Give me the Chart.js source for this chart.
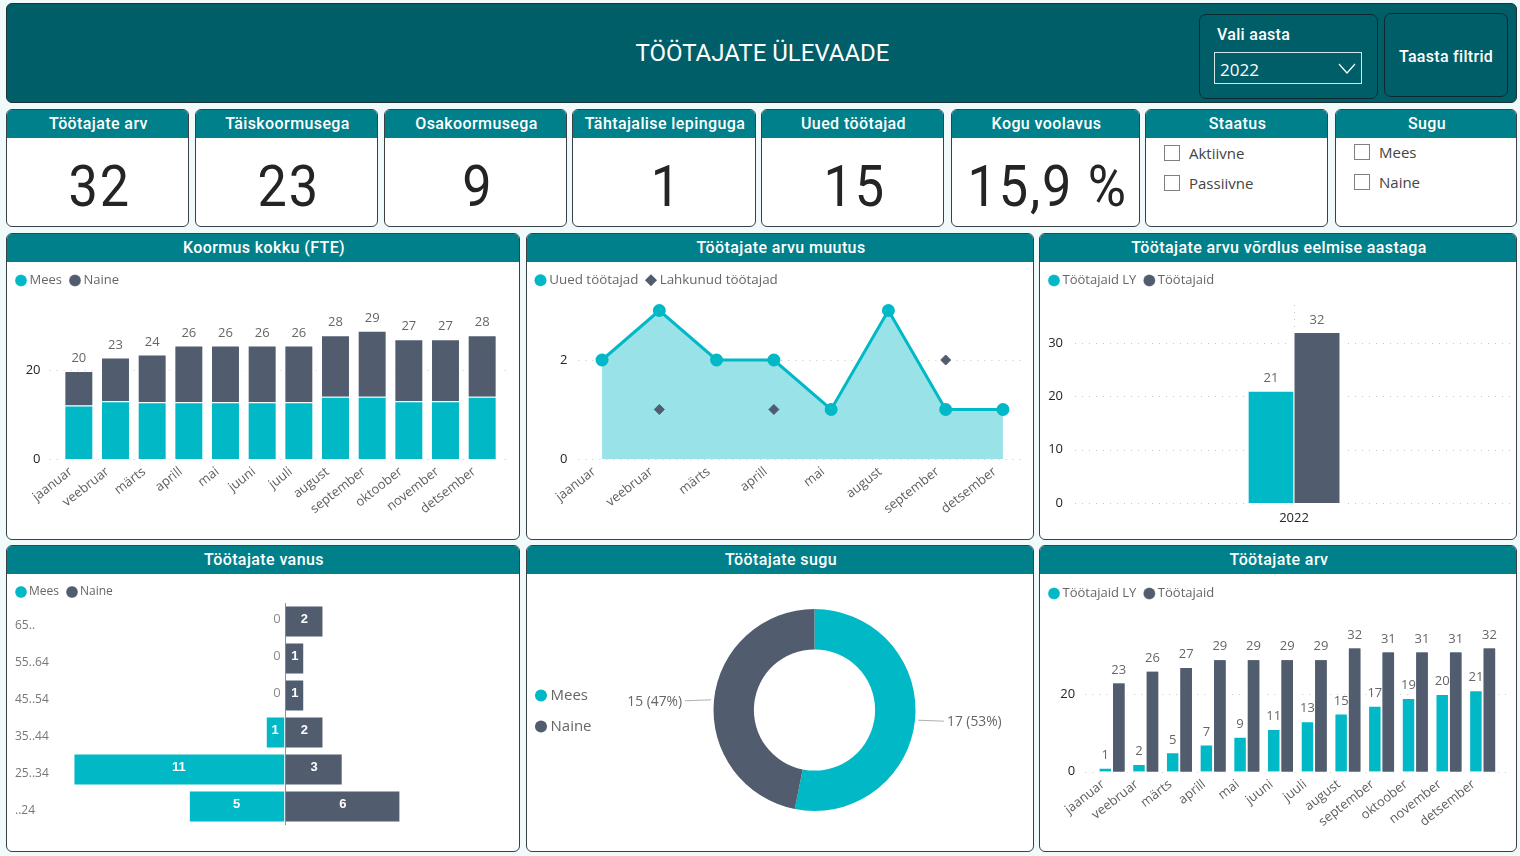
<!DOCTYPE html>
<html lang="et">
<head>
<meta charset="utf-8">
<title>Töötajate ülevaade</title>
<script src="https://cdn.jsdelivr.net/npm/chart.js@4"></script>
<style>
  html, body { margin: 0; padding: 0; }
  body { width: 1520px; height: 856px; position: relative; overflow: hidden; background: #f1fafb; font-family: Roboto, sans-serif; }
  .box { position: absolute; box-sizing: border-box; background: #fff; border: 1px solid #3c3f44; border-radius: 6px; overflow: hidden; }
  .band { height: 28px; line-height: 27px; background: #00808a; color: #fff; text-align: center; text-indent: 2px; font-weight: 500; font-size: 16px; letter-spacing: 0.4px; }
  .num { text-align: center; text-indent: 5px; font-size: 58px; line-height: 96px; color: #252423; letter-spacing: 2px; transform: scaleX(0.9); }
  .top { position: absolute; left: 6px; top: 3px; width: 1511px; height: 100px; box-sizing: border-box; background: #005e68; border: 1px solid #1d3236; border-radius: 6px; }
  .title { position: absolute; left: 0; width: 1511px; top: 32px; text-align: center; color: #fff; font-size: 24px; line-height: 34px; }
  .inner { position: absolute; box-sizing: border-box; border: 1px solid #0d2a2e; border-radius: 7px; color: #fff; }
  .check { position: absolute; font: 15px "Open Sans", sans-serif; color: #444; }
  .check i { position: absolute; left: 0; top: 2px; width: 14px; height: 14px; border: 1px solid #808080; }
  .check span { position: absolute; left: 25px; top: 0; white-space: nowrap; }
  canvas { position: absolute; }
</style>
</head>
<body>
<div class="top">
  <div class="title">TÖÖTAJATE ÜLEVAADE</div>
  <div class="inner" style="left:1192px;top:10px;width:179px;height:85px;">
    <div style="position:absolute;left:17px;top:10px;font-size:16px;font-weight:500;letter-spacing:0.3px;">Vali aasta</div>
    <div style="position:absolute;left:14px;top:37px;width:148px;height:32px;box-sizing:border-box;border:1px solid #d5e6e8;">
      <span style="position:absolute;left:5px;top:5px;font:17px 'Open Sans',sans-serif;">2022</span>
      <svg style="position:absolute;right:5px;top:10px;" width="18" height="12"><polyline points="1,1 9,10 17,1" fill="none" stroke="#fff" stroke-width="1.2"/></svg>
    </div>
  </div>
  <div class="inner" style="left:1377px;top:9px;width:124px;height:84px;">
    <div style="position:absolute;left:0;width:100%;top:33px;text-align:center;font-size:16px;font-weight:500;letter-spacing:0.3px;">Taasta filtrid</div>
  </div>
</div>

<div class="box" style="left:6px;top:109px;width:183px;height:118px;"><div class="band">Töötajate arv</div><div class="num" id="kpi0"></div></div>
<div class="box" style="left:195px;top:109px;width:183px;height:118px;"><div class="band">Täiskoormusega</div><div class="num" id="kpi1"></div></div>
<div class="box" style="left:384px;top:109px;width:183px;height:118px;"><div class="band">Osakoormusega</div><div class="num" id="kpi2"></div></div>
<div class="box" style="left:572px;top:109px;width:184px;height:118px;"><div class="band">Tähtajalise lepinguga</div><div class="num" id="kpi3"></div></div>
<div class="box" style="left:761px;top:109px;width:183px;height:118px;"><div class="band">Uued töötajad</div><div class="num" id="kpi4"></div></div>
<div class="box" style="left:951px;top:109px;width:189px;height:118px;"><div class="band">Kogu voolavus</div><div class="num" id="kpi5"></div></div>
<div class="box" style="left:1145px;top:109px;width:183px;height:118px;"><div class="band">Staatus</div>
  <div class="check" style="left:18px;top:33px;"><i></i><span>Aktiivne</span></div>
  <div class="check" style="left:18px;top:63px;"><i></i><span>Passiivne</span></div>
</div>
<div class="box" style="left:1335px;top:109px;width:182px;height:118px;"><div class="band">Sugu</div>
  <div class="check" style="left:18px;top:32px;"><i></i><span>Mees</span></div>
  <div class="check" style="left:18px;top:62px;"><i></i><span>Naine</span></div>
</div>

<div class="box" style="left:6px;top:233px;width:514px;height:307px;"><div class="band">Koormus kokku (FTE)</div></div>
<div class="box" style="left:526px;top:233px;width:508px;height:307px;"><div class="band">Töötajate arvu muutus</div></div>
<div class="box" style="left:1039px;top:233px;width:478px;height:307px;"><div class="band">Töötajate arvu võrdlus eelmise aastaga</div></div>
<div class="box" style="left:6px;top:545px;width:514px;height:307px;"><div class="band">Töötajate vanus</div></div>
<div class="box" style="left:526px;top:545px;width:508px;height:307px;"><div class="band">Töötajate sugu</div></div>
<div class="box" style="left:1039px;top:545px;width:478px;height:307px;"><div class="band">Töötajate arv</div></div>

<canvas id="fte" width="510" height="275" style="left:8px;top:263px;"></canvas>
<canvas id="muutus" width="504" height="275" style="left:528px;top:263px;"></canvas>
<canvas id="vordlus" width="474" height="275" style="left:1041px;top:263px;"></canvas>
<canvas id="vanus" width="510" height="274" style="left:8px;top:576px;"></canvas>
<canvas id="sugu" width="504" height="274" style="left:528px;top:576px;"></canvas>
<canvas id="arv" width="474" height="274" style="left:1041px;top:576px;"></canvas>

<script>
const kpiValues = ["32", "23", "9", "1", "15", "15,9 %"];

const months = ["jaanuar", "veebruar", "märts", "aprill", "mai", "juuni", "juuli", "august", "september", "oktoober", "november", "detsember"];
const fteMees = [12, 13, 12.75, 12.75, 12.75, 12.75, 12.75, 14, 14, 13, 13, 14];
const fteNaine = [7.8, 9.8, 10.75, 12.75, 12.75, 12.75, 12.75, 13.8, 14.8, 13.9, 13.9, 13.8];
const fteTicks = [0, 20];

const changeMonths = ["jaanuar", "veebruar", "märts", "aprill", "mai", "august", "september", "detsember"];
const newEmployees = [2, 3, 2, 2, 1, 3, 1, 1];
const leftEmployees = [null, 1, null, 1, null, null, 2, null];
const changeTicks = [0, 2];

const compareYears = ["2022"];
const compareLY = [21];
const compareNow = [32];
const compareTicks = [0, 10, 20, 30];

const ageGroups = ["65..", "55..64", "45..54", "35..44", "25..34", "..24"];
const ageMees = [0, 0, 0, 1, 11, 5];
const ageNaine = [2, 1, 1, 2, 3, 6];

const genderLabels = ["Mees", "Naine"];
const genderValues = [17, 15];

const countLY = [1, 2, 5, 7, 9, 11, 13, 15, 17, 19, 20, 21];
const countNow = [23, 26, 27, 29, 29, 29, 29, 32, 31, 31, 31, 32];
const countTicks = [0, 20];

const TEAL = "#01b8c6";
const DARK = "#515c6e";
const PALE = "#99e2e8";
const EDGE = "rgba(255,255,255,0.35)";
const TEXT = "#666666";
const SANS = '"Open Sans", sans-serif';

kpiValues.forEach((v, i) => { document.getElementById("kpi" + i).textContent = v; });

Chart.defaults.animation = false;
Chart.defaults.responsive = false;
Chart.defaults.font.family = SANS;
Chart.defaults.font.size = 13;
Chart.defaults.plugins.tooltip.enabled = false;

// fixes the space the legend takes so the plot lands where it does in the reference
const legendFix = {
  id: "legendFix",
  beforeLayout(chart, args, opts) {
    const legend = chart.legend;
    if (legend.patched) return;
    legend.patched = true;
    const fit = legend.fit;
    legend.fit = function () {
      fit.call(this);
      if (opts.height) this.height = opts.height;
      if (opts.width) this.width = opts.width;
    };
  },
  afterLayout(chart, args, opts) {
    if (opts.dx) chart.legend.left += opts.dx;
    if (opts.dy) chart.legend.top += opts.dy;
  },
};

const dotGrid = {
  id: "dotGrid",
  beforeDatasetsDraw(chart, args, opts) {
    const { ctx, chartArea, scales } = chart;
    ctx.save();
    ctx.strokeStyle = "#c4c4c4";
    ctx.lineWidth = 1;
    ctx.setLineDash([1, 6]);
    scales.y.ticks.forEach((t) => {
      const y = Math.round(scales.y.getPixelForValue(t.value)) + 0.5;
      ctx.beginPath();
      ctx.moveTo(chartArea.left + opts.from, y);
      ctx.lineTo(chartArea.right + opts.to, y);
      ctx.stroke();
    });
    if (opts.vertical) {
      const x = Math.round(scales.x.getPixelForValue(0)) + 0.5;
      ctx.beginPath();
      ctx.moveTo(x, chartArea.top);
      ctx.lineTo(x, chartArea.bottom);
      ctx.stroke();
    }
    ctx.setLineDash([]);
    if (opts.halo) {
      ctx.fillStyle = "#fff";
      chart.getSortedVisibleDatasetMetas().forEach((meta) => {
        meta.data.forEach((bar) => {
          const w = bar.width / 2 + opts.halo;
          ctx.fillRect(bar.x - w, bar.y, w * 2, bar.base - bar.y + 1);
        });
      });
    }
    ctx.restore();
  },
};

const stackTotals = {
  id: "stackTotals",
  afterDatasetsDraw(chart) {
    const { ctx } = chart;
    const top = chart.getDatasetMeta(chart.data.datasets.length - 1);
    ctx.save();
    ctx.font = "13px " + SANS;
    ctx.fillStyle = TEXT;
    ctx.textAlign = "center";
    ctx.textBaseline = "bottom";
    top.data.forEach((bar, i) => {
      const total = chart.data.datasets.reduce((sum, ds) => sum + ds.data[i], 0);
      ctx.fillText(Math.round(total), bar.x, bar.y - 6);
    });
    ctx.restore();
  },
};

// the dark bars are drawn again over the first series' labels, which they cut in the reference
const barValues = {
  id: "barValues",
  afterDatasetsDraw(chart) {
    const { ctx } = chart;
    const writeLabels = (d) => {
      chart.getDatasetMeta(d).data.forEach((bar, i) => {
        ctx.fillText(chart.data.datasets[d].data[i], bar.x, bar.y - 6);
      });
    };
    ctx.save();
    ctx.font = "13px " + SANS;
    ctx.fillStyle = TEXT;
    ctx.textAlign = "center";
    ctx.textBaseline = "bottom";
    writeLabels(0);
    chart.getDatasetMeta(1).data.forEach((bar) => bar.draw(ctx));
    ctx.font = "13px " + SANS;
    ctx.fillStyle = TEXT;
    writeLabels(1);
    ctx.restore();
  },
};

const ageValues = {
  id: "ageValues",
  afterDatasetsDraw(chart) {
    const { ctx } = chart;
    ctx.save();
    ctx.textAlign = "center";
    ctx.textBaseline = "middle";
    chart.data.datasets.forEach((ds, d) => {
      chart.getDatasetMeta(d).data.forEach((bar, i) => {
        const v = Math.abs(ds.data[i]);
        if (v === 0) {
          ctx.font = "13px " + SANS;
          ctx.fillStyle = "#8a8a8a";
          ctx.fillText("0", bar.base - 8, bar.y - 2);
        } else {
          ctx.font = 'bold 13px "Liberation Sans", sans-serif';
          ctx.fillStyle = "#fff";
          ctx.fillText(v, (bar.x + bar.base) / 2, bar.y - 2);
        }
      });
    });
    ctx.restore();
  },
};

const donutCallouts = {
  id: "donutCallouts",
  afterDatasetsDraw(chart) {
    const { ctx } = chart;
    const data = chart.data.datasets[0].data;
    const sum = data.reduce((a, b) => a + b, 0);
    ctx.save();
    ctx.font = "13.8px " + SANS;
    ctx.fillStyle = TEXT;
    ctx.strokeStyle = "#b0b0b0";
    ctx.textBaseline = "middle";
    chart.getDatasetMeta(0).data.forEach((arc, i) => {
      const mid = (arc.startAngle + arc.endAngle) / 2;
      const r = arc.outerRadius + 3;
      const x = arc.x + Math.cos(mid) * r;
      const y = arc.y + Math.sin(mid) * r;
      const side = Math.cos(mid) > 0 ? 1 : -1;
      ctx.beginPath();
      ctx.moveTo(x, y);
      ctx.lineTo(x + side * 26, y + 1);
      ctx.stroke();
      ctx.textAlign = side > 0 ? "left" : "right";
      ctx.fillText(data[i] + " (" + Math.round((data[i] / sum) * 100) + "%)", x + side * 29, y + 2);
    });
    ctx.restore();
  },
};

function legendOptions(padding, size, extraLabels) {
  return {
    position: "top",
    align: "start",
    labels: Object.assign({
      usePointStyle: true,
      pointStyle: "circle",
      boxWidth: 4,
      boxHeight: 8.5,
      padding: padding,
      color: TEXT,
      font: { size: size },
    }, extraLabels),
  };
}

function xTicks(offset) {
  return {
    autoSkip: false,
    minRotation: 38,
    maxRotation: 38,
    padding: 5,
    labelOffset: offset,
    color: "#605e5c",
    font: { size: 13 },
  };
}

function yAxis(tickValues, max, width, padding) {
  return {
    min: 0,
    max: max,
    afterBuildTicks(s) { s.ticks = tickValues.map((v) => ({ value: v })); },
    afterFit(s) { s.width = width; },
    grid: { display: false, drawTicks: false },
    border: { display: false },
    ticks: { padding: padding, color: "#252423", font: { size: 13 } },
  };
}

function xAxis(height, ticks, extra) {
  return Object.assign({
    afterFit(s) { s.height = height; },
    grid: { display: false, drawTicks: false },
    border: { display: false },
    ticks: ticks,
  }, extra);
}

new Chart(document.getElementById("fte"), {
  type: "bar",
  data: {
    labels: months,
    datasets: [
      { label: "Mees", data: fteMees, backgroundColor: TEAL, borderColor: EDGE, borderWidth: 1, categoryPercentage: 0.79, barPercentage: 1 },
      { label: "Naine", data: fteNaine, backgroundColor: DARK, borderColor: EDGE, borderWidth: 1, categoryPercentage: 0.79, barPercentage: 1 },
    ],
  },
  plugins: [legendFix, dotGrid, stackTotals],
  options: {
    layout: { autoPadding: false, padding: { left: 2, right: 17.5 } },
    scales: {
      x: xAxis(79, xTicks(-8), { stacked: true }),
      y: Object.assign(yAxis(fteTicks, 36.85, 50.5, 20), { stacked: true }),
    },
    plugins: {
      legend: legendOptions(11, 13),
      legendFix: { height: 32, dx: -2 },
      dotGrid: { from: -11, to: 10, halo: 2 },
    },
  },
});

new Chart(document.getElementById("muutus"), {
  type: "line",
  data: {
    labels: changeMonths,
    datasets: [
      {
        label: "Uued töötajad",
        data: newEmployees,
        order: 2,
        borderColor: TEAL,
        borderWidth: 3,
        backgroundColor: PALE,
        fill: "origin",
        tension: 0,
        pointStyle: "circle",
        pointRadius: 5,
        pointBackgroundColor: TEAL,
        pointBorderColor: TEAL,
      },
      {
        label: "Lahkunud töötajad",
        data: leftEmployees,
        order: 1,
        showLine: false,
        backgroundColor: DARK,
        borderColor: DARK,
        pointStyle: "rectRot",
        pointRadius: 5,
        pointBackgroundColor: DARK,
        pointBorderColor: DARK,
      },
    ],
  },
  plugins: [legendFix, dotGrid],
  options: {
    layout: { autoPadding: false, padding: { left: 2, right: 0.4 } },
    scales: {
      x: xAxis(79, xTicks(-8), { offset: true }),
      y: yAxis(changeTicks, 3.313, 43.4, 6),
    },
    plugins: {
      legend: legendOptions(10.5, 13.4, {
        sort: (a, b) => a.datasetIndex - b.datasetIndex,
        generateLabels(chart) {
          return Chart.defaults.plugins.legend.labels.generateLabels(chart).map((item) => {
            const ds = chart.data.datasets[item.datasetIndex];
            item.fillStyle = ds.pointBackgroundColor;
            item.strokeStyle = ds.pointBorderColor;
            item.pointStyle = ds.pointStyle;
            item.lineWidth = 0;
            return item;
          });
        },
      }),
      legendFix: { height: 32, dx: -2 },
      dotGrid: { from: 5, to: -5 },
    },
  },
});

new Chart(document.getElementById("vordlus"), {
  type: "bar",
  data: {
    labels: compareYears,
    datasets: [
      { label: "Töötajaid LY", data: compareLY, backgroundColor: TEAL, borderColor: EDGE, borderWidth: 1, barThickness: 46 },
      { label: "Töötajaid", data: compareNow, backgroundColor: DARK, borderColor: EDGE, borderWidth: 1, barThickness: 46 },
    ],
  },
  plugins: [legendFix, dotGrid, barValues],
  options: {
    layout: { autoPadding: false, padding: { left: 2, right: 3 } },
    scales: {
      x: xAxis(35, { padding: 7, color: "#252423", font: { size: 13 } }),
      y: yAxis(compareTicks, 37.15, 33, 13),
    },
    plugins: {
      legend: legendOptions(11, 13),
      legendFix: { height: 42, dx: -2 },
      dotGrid: { from: -1, to: -2, vertical: true, halo: 4 },
    },
  },
});

new Chart(document.getElementById("vanus"), {
  type: "bar",
  data: {
    labels: ageGroups,
    datasets: [
      // Mees is mirrored to the left of the centre line
      { label: "Mees", data: ageMees.map((v) => -v), backgroundColor: TEAL, borderColor: EDGE, borderWidth: 1, categoryPercentage: 0.865, barPercentage: 1 },
      { label: "Naine", data: ageNaine, backgroundColor: DARK, borderColor: EDGE, borderWidth: 1, categoryPercentage: 0.865, barPercentage: 1 },
    ],
  },
  plugins: [legendFix, ageValues],
  options: {
    indexAxis: "y",
    layout: { autoPadding: false, padding: { left: 7, right: 8 } },
    scales: {
      x: {
        stacked: true,
        min: -11.7,
        max: 11.7,
        afterBuildTicks(s) { s.ticks = [{ value: 0 }]; },
        afterFit(s) { s.height = 25; },
        border: { display: false },
        grid: { color: "#8c929c", drawTicks: false },
        ticks: { display: false },
      },
      y: {
        stacked: true,
        afterFit(s) { s.width = 45; },
        border: { display: false },
        grid: { display: false, drawTicks: false },
        ticks: { crossAlign: "far", padding: 0, autoSkip: false, labelOffset: 4, color: "#777", font: { size: 12 } },
      },
    },
    plugins: {
      legend: legendOptions(11, 12),
      legendFix: { height: 27, dx: -7, dy: -1 },
    },
  },
});

new Chart(document.getElementById("sugu"), {
  type: "doughnut",
  data: {
    labels: genderLabels,
    datasets: [{ data: genderValues, backgroundColor: [TEAL, DARK], borderWidth: 0 }],
  },
  plugins: [legendFix, donutCallouts],
  options: {
    radius: 101,
    cutout: "60%",
    layout: { autoPadding: false, padding: { bottom: 6 } },
    plugins: {
      legend: {
        position: "left",
        align: "center",
        labels: {
          usePointStyle: true,
          pointStyle: "circle",
          boxWidth: 4,
          boxHeight: 8.5,
          padding: 16,
          color: TEXT,
          font: { size: 15 },
        },
      },
      legendFix: { width: 69, dx: -5, dy: 2 },
    },
  },
});

new Chart(document.getElementById("arv"), {
  type: "bar",
  data: {
    labels: months,
    datasets: [
      { label: "Töötajaid LY", data: countLY, backgroundColor: TEAL, borderColor: EDGE, borderWidth: 1, categoryPercentage: 0.8, barPercentage: 1 },
      { label: "Töötajaid", data: countNow, backgroundColor: DARK, borderColor: EDGE, borderWidth: 1, categoryPercentage: 0.8, barPercentage: 1 },
    ],
  },
  plugins: [legendFix, dotGrid, barValues],
  options: {
    layout: { autoPadding: false, padding: { left: 2, right: 15.5 } },
    scales: {
      x: xAxis(78.3, xTicks(-9)),
      y: yAxis(countTicks, 42.2, 52.2, 20),
    },
    plugins: {
      legend: legendOptions(11, 13),
      legendFix: { height: 32, dx: -2 },
      dotGrid: { from: -10, to: 6.5, halo: 2 },
    },
  },
});
</script>
</body>
</html>
